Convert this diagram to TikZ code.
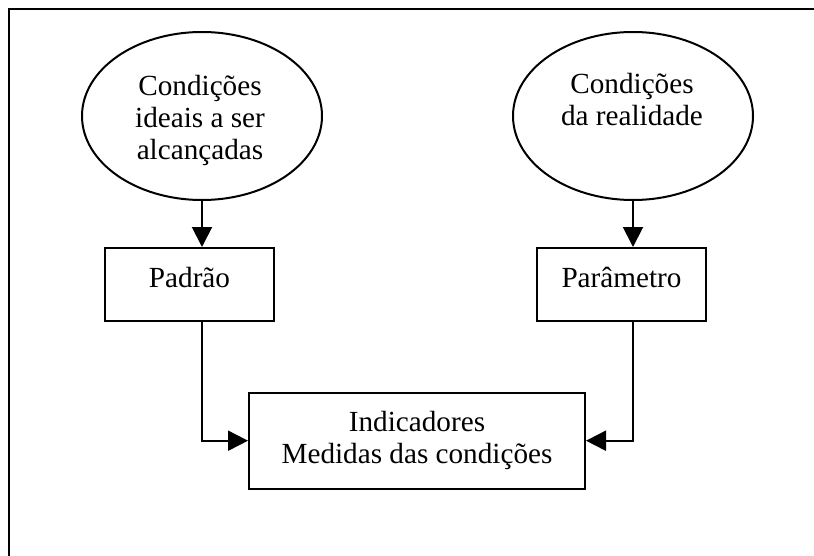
\documentclass[tikz,border=0pt]{standalone}
\usepackage{fontspec}
\setmainfont{Liberation Serif}
\usetikzlibrary{arrows.meta,shapes.geometric}

\begin{document}
\begin{tikzpicture}[x=0.5pt,y=-0.5pt,>={Triangle[length=10pt,width=10pt]},
		every node/.style={font=\fontsize{14.6}{16}\selectfont},
		elipse/.style={shape=ellipse,draw,line width=1pt,minimum width=120pt,minimum height=84pt,inner sep=0pt},
		rotulo/.style={align=center,inner sep=0pt,anchor=north},
		caixa/.style={shape=rectangle,draw,line width=1pt,minimum width=84.5pt,minimum height=36.5pt,text height=10pt,text depth=7.5pt,inner sep=0pt},
		seta/.style={->,line width=1pt}]
					\useasboundingbox (0,0) rectangle (814,556);
					\draw[line width=1.4pt] (814,9) -- (9,9) -- (9,556);

					\node (ideais) [elipse] at (202,116) {};
					\node (realidade) [elipse] at (633,116) {};
					\node (t-ideais) [rotulo] at (200,75) {Condições\\ideais a ser\\alcançadas};
					\node (t-realidade) [rotulo] at (632,73) {Condições\\da realidade};

					\node (padrao) [caixa] at (189.5,284.5) {Padrão};
					\node (parametro) [caixa] at (621.5,284.5) {Parâmetro};
					\node (indicadores) [shape=rectangle,draw,line width=1pt,minimum width=168pt,minimum height=48pt,align=center] at (417,440.7) {
						Indicadores\\Medidas das condições
					};

					\path[seta] (ideais.south) edge (ideais.south |- padrao.north);
					\path[seta] (realidade.south) edge (realidade.south |- parametro.north);
					\draw[seta] (padrao.south -| ideais.south) |- (indicadores.west);
					\draw[seta] (parametro.south -| realidade.south) |- (indicadores.east);
				\end{tikzpicture}
\end{document}
